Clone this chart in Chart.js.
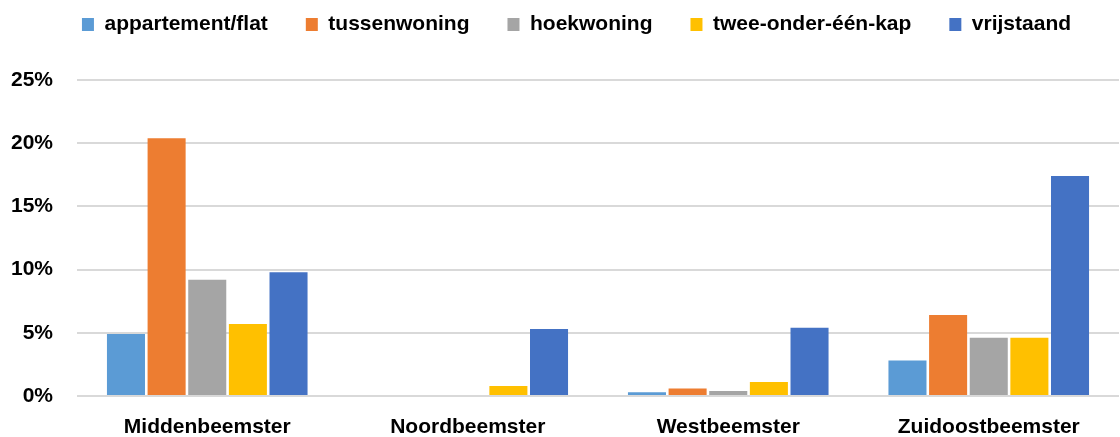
<!DOCTYPE html>
<html>
<head>
<meta charset="utf-8">
<script src="https://cdn.jsdelivr.net/npm/chart.js@4/dist/chart.umd.min.js"></script>
<style>
  html, body { margin: 0; padding: 0; background: #ffffff; }
  #wrap { width: 1120px; height: 437px; position: relative; }
</style>
</head>
<body>
<div id="wrap"><canvas id="c"></canvas></div>
<script>
// Share of dwelling types per village (percent)
const categories = ['Middenbeemster', 'Noordbeemster', 'Westbeemster', 'Zuidoostbeemster'];
const seriesNames = ['appartement/flat', 'tussenwoning', 'hoekwoning', 'twee-onder-één-kap', 'vrijstaand'];
const appartement = [4.9, 0, 0.3, 2.8];
const tussenwoning = [20.4, 0, 0.6, 6.4];
const hoekwoning = [9.2, 0, 0.4, 4.6];
const tweeOnderEenKap = [5.7, 0.8, 1.1, 4.6];
const vrijstaand = [9.8, 5.3, 5.4, 17.4];
const yTicks = [0, 5, 10, 15, 20, 25];

const colors = ['#5B9BD5', '#ED7D31', '#A5A5A5', '#FFC000', '#4472C4'];
const values = [appartement, tussenwoning, hoekwoning, tweeOnderEenKap, vrijstaand];

const labelFont = { family: '"Liberation Sans", Arial, sans-serif', size: 21, weight: 'bold' };

const datasets = seriesNames.map((name, i) => ({
  label: name,
  data: values[i],
  backgroundColor: colors[i],
  borderWidth: 0,
  barPercentage: 0.936,
  categoryPercentage: 0.78
}));

// Fixed legend block height, and a small offset for where the legend row is drawn
const legendTweaks = {
  id: 'legendTweaks',
  afterInit(chart) {
    const lg = chart.legend;
    if (!lg) return;
    const origFit = lg.fit.bind(lg);
    lg.fit = function () {
      origFit();
      this.height = 80;
    };
    const origDraw = lg.draw.bind(lg);
    lg.draw = function () {
      const ctx = this.ctx;
      ctx.save();
      ctx.translate(17, -24);
      origDraw();
      ctx.restore();
    };
  }
};

new Chart(document.getElementById('c'), {
  type: 'bar',
  data: { labels: categories, datasets },
  plugins: [legendTweaks],
  options: {
    responsive: true,
    maintainAspectRatio: false,
    animation: false,
    layout: { padding: { left: 0, right: 1, top: 0, bottom: 0 } },
    plugins: {
      legend: {
        position: 'top',
        align: 'center',
        labels: {
          boxWidth: 12,
          boxHeight: 13,
          padding: 38,
          color: '#000000',
          font: labelFont
        }
      },
      tooltip: { enabled: false }
    },
    scales: {
      x: {
        grid: { display: false },
        border: { display: false },
        ticks: { color: '#000000', font: labelFont, padding: 11, maxRotation: 0 },
        afterFit(scale) { scale.height = 41; }
      },
      y: {
        min: 0,
        max: 25,
        afterBuildTicks(scale) { scale.ticks = yTicks.map(v => ({ value: v })); },
        grid: { color: '#D9D9D9', lineWidth: 2, drawTicks: false },
        border: { display: false },
        ticks: {
          color: '#000000',
          font: labelFont,
          padding: 24,
          callback: v => v + '%'
        },
        afterFit(scale) { scale.width = 77; }
      }
    }
  }
});
</script>
</body>
</html>
